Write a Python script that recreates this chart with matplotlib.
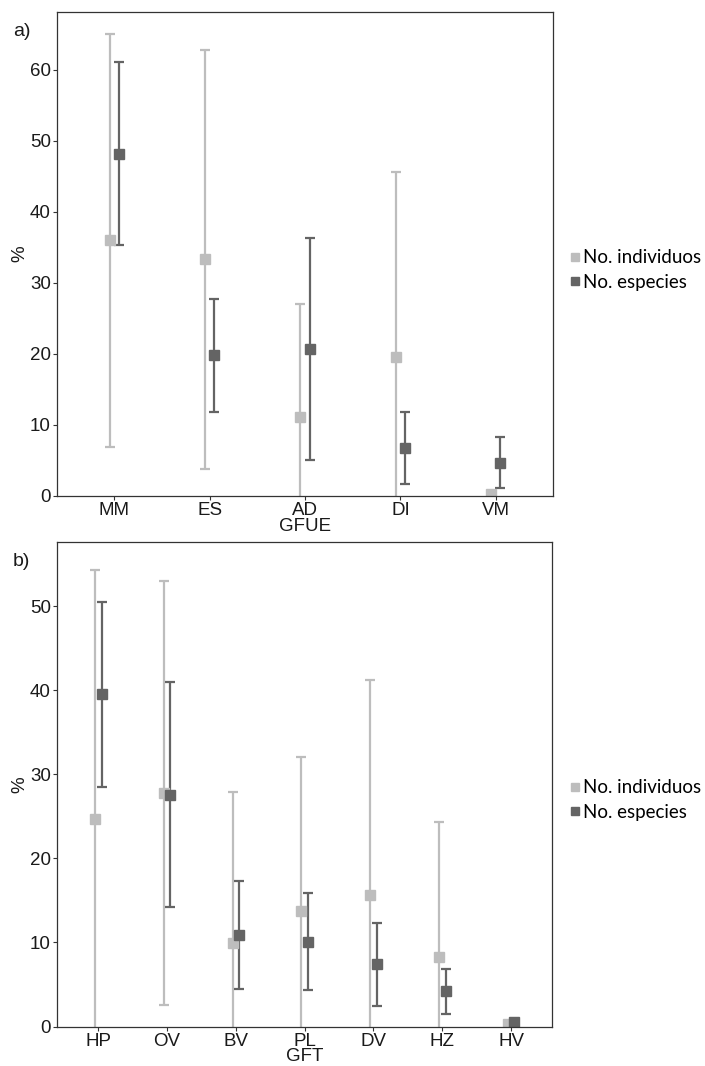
import matplotlib
matplotlib.use('Agg')
import matplotlib.pyplot as plt
from matplotlib.lines import Line2D
import numpy as np

plt.rcParams['font.family'] = ['Liberation Sans', 'DejaVu Sans']

# panel a) GFUE
cats_a = ['MM', 'ES', 'AD', 'DI', 'VM']
ind_a = [36.0, 33.3, 11.1, 19.5, 0.3]
ind_sd_a = [29.1, 29.5, 15.9, 26.1, 0.0]
esp_a = [48.2, 19.8, 20.7, 6.7, 4.65]
esp_sd_a = [12.85, 7.95, 15.65, 5.1, 3.6]

# panel b) GFT
cats_b = ['HP', 'OV', 'BV', 'PL', 'DV', 'HZ', 'HV']
ind_b = [24.7, 27.8, 9.9, 13.7, 15.6, 8.3, 0.3]
ind_sd_b = [29.6, 25.2, 18.0, 18.4, 25.65, 16.0, 0.0]
esp_b = [39.5, 27.6, 10.9, 10.1, 7.4, 4.2, 0.5]
esp_sd_b = [10.95, 13.4, 6.4, 5.8, 4.9, 2.7, 0.0]

labels = ['No. individuos', 'No. especies']
light = '#bdbdbd'
dark = '#646464'

fig = plt.figure(figsize=(7.05, 10.66), dpi=100)
ax1 = fig.add_axes([0.0809, 0.535, 0.7035, 0.4535])
ax2 = fig.add_axes([0.0809, 0.037, 0.7025, 0.4543])


def panel(ax, cats, ind, ind_sd, esp, esp_sd, ymax, yticks, xlabel, tag, leg_y):
    x = np.arange(1, len(cats) + 1)
    d = 0.049
    ax.errorbar(x - d, ind, yerr=ind_sd, fmt='s', color=light, ecolor=light,
                markersize=6.5, elinewidth=1.6, capsize=3.3, capthick=1.6)
    ax.errorbar(x + d, esp, yerr=esp_sd, fmt='s', color=dark, ecolor=dark,
                markersize=6.5, elinewidth=1.6, capsize=3.3, capthick=1.6)
    ax.set_xlim(0.4, len(cats) + 0.6)
    ax.set_ylim(0, ymax)
    ax.set_xticks(x)
    ax.set_xticklabels(cats)
    ax.set_yticks(yticks)
    ax.tick_params(axis='both', direction='out', length=3, width=0.8,
                   color='#333333', labelsize=13.5, labelcolor='#1a1a1a', pad=1.5)
    for s in ax.spines.values():
        s.set_color('#333333')
        s.set_linewidth(0.9)
    ax.set_xlabel(xlabel, fontsize=13.5, color='#1a1a1a', labelpad=-1)
    ax.set_ylabel('%', fontsize=13.5, color='#1a1a1a', labelpad=1)
    pos = ax.get_position()
    fig.text(0.018, pos.y1 - 0.018, tag, fontsize=14, color='#1a1a1a', va='center')
    handles = [Line2D([], [], marker='s', color=c, linestyle='none', markersize=6)
               for c in (light, dark)]
    fig.legend(handles, labels, loc='center left', bbox_to_anchor=(0.797, leg_y),
               frameon=False, prop={'family': 'Lato', 'size': 13.5},
               handlelength=0.6, handletextpad=0.15, labelspacing=0.38,
               borderaxespad=0)


panel(ax1, cats_a, ind_a, ind_sd_a, esp_a, esp_sd_a, 68.1,
      [0, 10, 20, 30, 40, 50, 60], 'GFUE', 'a)', 1 - 270 / 1066)
panel(ax2, cats_b, ind_b, ind_sd_b, esp_b, esp_sd_b, 57.6,
      [0, 10, 20, 30, 40, 50], 'GFT', 'b)', 1 - 800 / 1066)

fig.savefig('out.png', dpi=100)
